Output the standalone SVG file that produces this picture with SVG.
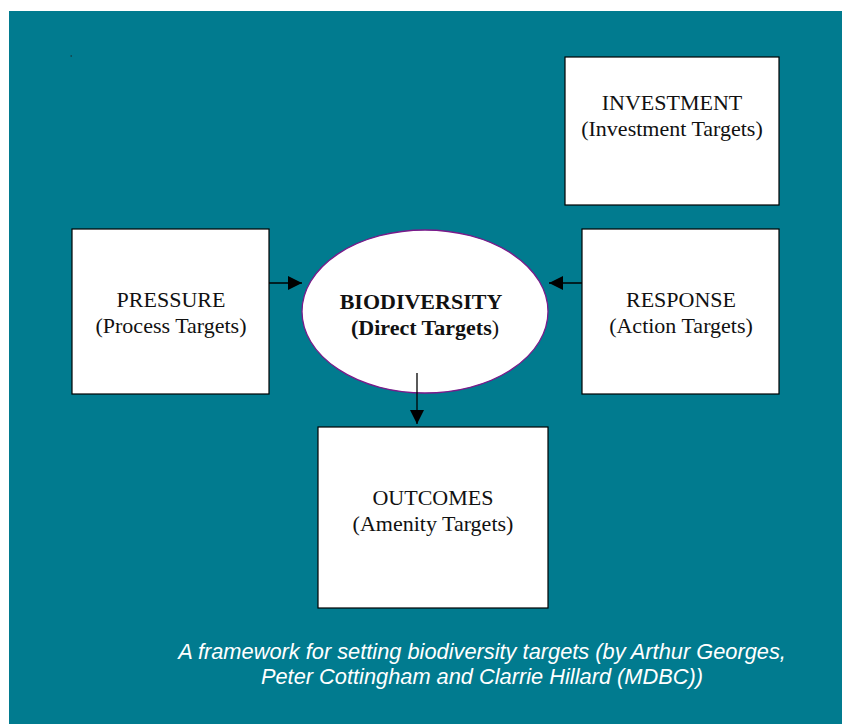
<svg xmlns="http://www.w3.org/2000/svg" width="842" height="724" viewBox="0 0 842 724">
<style>
.box{fill:#fff;stroke:#000;stroke-width:1.2}
.t{font-family:"Liberation Serif",serif;font-size:22px;fill:#111;text-anchor:middle}
.cap{font-family:"Liberation Sans",sans-serif;font-size:21.8px;font-style:italic;fill:#fff;text-anchor:middle}
.c{stroke:#000;stroke-width:1.3;fill:none}
</style>
<defs>
<marker id="ah" markerWidth="14" markerHeight="14" refX="14" refY="7" orient="auto" markerUnits="userSpaceOnUse"><path d="M0,0 L14,7 L0,14 z" fill="#000"/></marker>
</defs>
<rect x="0" y="0" width="842" height="724" fill="#fff"/>
<rect x="9" y="11" width="833" height="713" fill="#017B8F"/>
<rect x="70.5" y="55.5" width="1.5" height="1" fill="#222"/>
<g id="investment">
<rect class="box" x="565" y="57" width="214" height="148"/>
<text class="t" x="672" y="110">INVESTMENT</text>
<text class="t" x="672" y="136">(Investment Targets)</text>
</g>
<g id="pressure">
<rect class="box" x="72" y="229" width="197" height="165"/>
<text class="t" x="171" y="307">PRESSURE</text>
<text class="t" x="171" y="333">(Process Targets)</text>
</g>
<g id="response">
<rect class="box" x="582" y="229" width="197" height="165"/>
<text class="t" x="681" y="307">RESPONSE</text>
<text class="t" x="681" y="333">(Action Targets)</text>
</g>
<g id="outcomes">
<rect class="box" x="318" y="427" width="230" height="181"/>
<text class="t" x="433" y="505">OUTCOMES</text>
<text class="t" x="433" y="531">(Amenity Targets)</text>
</g>
<g id="biodiversity">
<ellipse cx="425" cy="311.5" rx="123" ry="81.5" fill="#fff" stroke="#7a1a8a" stroke-width="1.3"/>
<text class="t" x="421" y="309" font-weight="bold" font-size="26">BIODIVERSITY</text>
<text class="t" x="425" y="335" font-weight="bold">(Direct Targets<tspan font-weight="normal">)</tspan></text>
</g>
<g id="connectors">
<line class="c" x1="269" y1="283" x2="302" y2="283" marker-end="url(#ah)"/>
<line class="c" x1="582" y1="283" x2="549" y2="283" marker-end="url(#ah)"/>
<line class="c" x1="417" y1="373" x2="417" y2="424" marker-end="url(#ah)"/>
</g>
<g id="caption">
<text class="cap" x="482" y="659">A framework for setting biodiversity targets (by Arthur Georges,</text>
<text class="cap" x="482" y="684">Peter Cottingham and Clarrie Hillard (MDBC))</text>
</g>
</svg>
